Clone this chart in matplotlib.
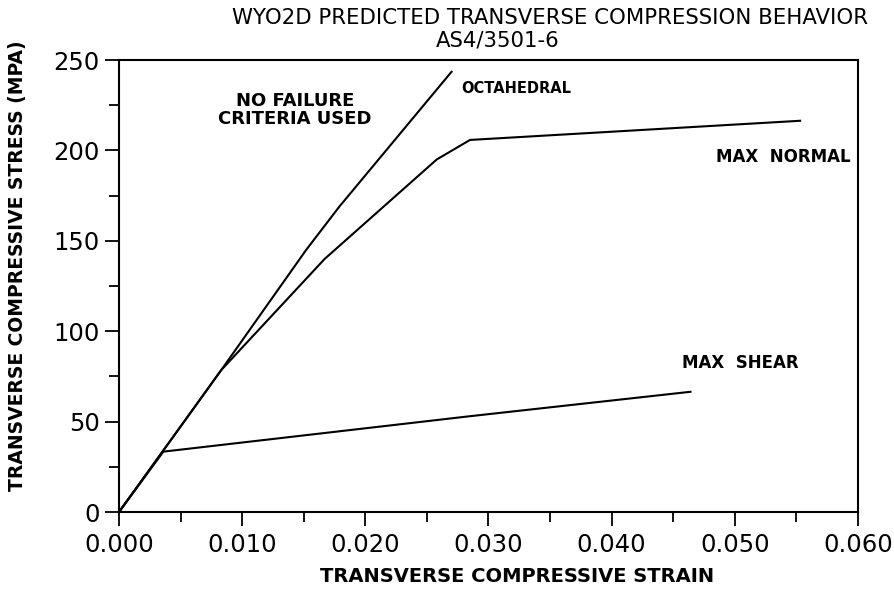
import matplotlib
matplotlib.use('Agg')
import matplotlib.pyplot as plt
from matplotlib.ticker import MultipleLocator, FormatStrFormatter

# curves (strain, stress in MPa)
top_strain = [0.0, 0.0083, 0.0152, 0.0179, 0.0270]
top_stress = [0.0, 78.5, 145.0, 169.0, 243.5]

normal_strain = [0.0, 0.0083, 0.0167, 0.0258, 0.0285, 0.0553]
normal_stress = [0.0, 78.5, 140.0, 195.0, 205.8, 216.4]

shear_strain = [0.0, 0.0036, 0.0158, 0.0285, 0.0464]
shear_stress = [0.0, 33.4, 43.0, 53.0, 66.5]

fig = plt.figure(figsize=(8.94, 5.92), dpi=100)
ax = fig.add_axes([0.1331, 0.1351, 0.9597 - 0.1331, 0.8986 - 0.1351])

for xs, ys in [(top_strain, top_stress), (normal_strain, normal_stress), (shear_strain, shear_stress)]:
    ax.plot(xs, ys, color='black', linewidth=1.5)

ax.set_xlim(0, 0.060)
ax.set_ylim(0, 250)
ax.xaxis.set_major_locator(MultipleLocator(0.010))
ax.xaxis.set_minor_locator(MultipleLocator(0.005))
ax.xaxis.set_major_formatter(FormatStrFormatter('%.3f'))
ax.yaxis.set_major_locator(MultipleLocator(50))
ax.yaxis.set_minor_locator(MultipleLocator(25))
ax.tick_params(which='major', direction='out', length=10, width=1.3, labelsize=17.5, pad=5)
ax.tick_params(axis='y', which='major', pad=4)
ax.tick_params(which='minor', direction='out', length=7, width=1.3)
for s in ax.spines.values():
    s.set_linewidth(1.5)

ax.set_xlabel('TRANSVERSE COMPRESSIVE STRAIN', fontsize=14, fontweight='bold')
ax.set_ylabel('TRANSVERSE COMPRESSIVE STRESS (MPA)', fontsize=13.5, fontweight='bold')
ax.xaxis.set_label_coords(0.539, -0.122)
ax.yaxis.set_label_coords(-0.125, 0.546)

fig.text(0.615, 0.97, 'WYO2D PREDICTED TRANSVERSE COMPRESSION BEHAVIOR', ha='center', va='center', fontsize=15.3)
fig.text(0.557, 0.932, 'AS4/3501-6', ha='center', va='center', fontsize=15.3)

ax.text(0.0143, 222.3, 'NO FAILURE\nCRITERIA USED', ha='center', va='center', fontsize=13, fontweight='bold', linespacing=1.05)
ax.text(0.0278, 234.5, 'OCTAHEDRAL', ha='left', va='center', fontsize=10.5, fontweight='bold')
ax.text(0.0485, 196.3, 'MAX  NORMAL', ha='left', va='center', fontsize=12, fontweight='bold')
ax.text(0.0457, 82.5, 'MAX  SHEAR', ha='left', va='center', fontsize=12, fontweight='bold')

fig.savefig('out.png', dpi=100)
